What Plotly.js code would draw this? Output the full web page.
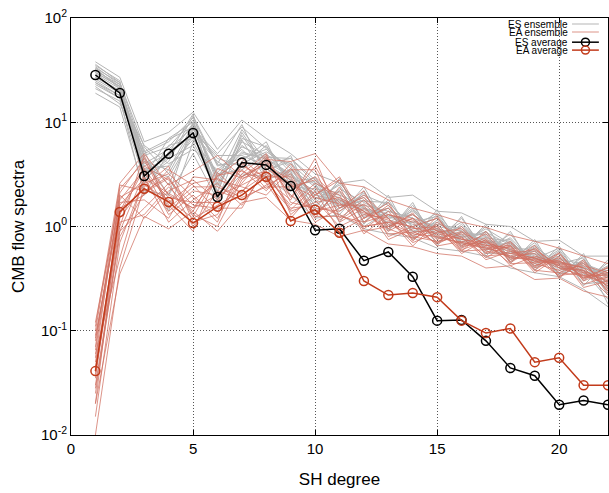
<!DOCTYPE html>
<html><head><meta charset="utf-8">
<script src="https://cdn.plot.ly/plotly-3.0.1.min.js"></script>
<style>html,body{margin:0;padding:0;background:#fff}#plot{width:609px;height:493px}</style>
</head><body><div id="plot"></div>
<script>
const degrees = [1,2,3,4,5,6,7,8,9,10,11,12,13,14,15,16,17,18,19,20,21,22];

const esAverage = [28.4,19.1,3.05,5.0,7.9,1.92,4.1,3.9,2.45,0.92,0.95,0.47,0.57,0.33,0.125,0.127,0.08,0.044,0.037,0.0195,0.0214,0.0195];
const eaAverage = [0.041,1.38,2.3,1.72,1.08,1.55,2.0,3.0,1.13,1.45,0.87,0.30,0.22,0.23,0.21,0.125,0.095,0.105,0.05,0.055,0.03,0.03];

const esEnsemble = [
 [30,22,4.0,5.5,9.0,3.0,5.0,4.5,3.2,2.0,1.8,1.5,1.3,1.1,0.95,0.85,0.75,0.60,0.50,0.42,0.38,0.30],
 [25,18,3.5,3.0,7.5,2.5,6.0,4.0,2.8,1.6,2.2,1.3,1.5,0.9,1.1,0.75,0.80,0.55,0.58,0.40,0.44,0.33],
 [36,24,5.0,6.5,11.0,3.8,4.5,5.5,3.6,2.4,1.6,1.9,1.2,1.3,0.85,1.0,0.65,0.70,0.48,0.50,0.36,0.38],
 [21,16,2.8,4.5,6.0,2.2,7.5,3.5,4.2,1.8,2.5,1.2,1.7,1.0,1.2,0.70,0.90,0.50,0.62,0.36,0.48,0.28],
 [28,20,4.5,2.5,8.5,4.5,3.8,6.0,2.5,2.7,1.4,2.1,1.0,1.5,0.80,1.1,0.60,0.78,0.44,0.55,0.32,0.42],
 [33,21,3.0,7.0,10.0,2.8,8.5,4.2,3.0,2.2,2.0,1.6,1.4,1.2,1.0,0.90,0.72,0.65,0.52,0.46,0.40,0.35],
 [23,17,6.0,4.0,5.5,3.5,5.5,3.2,4.8,1.5,2.8,1.1,1.8,0.85,1.3,0.65,1.0,0.48,0.70,0.34,0.52,0.25],
 [31,23,3.8,5.0,12.0,2.0,4.2,6.5,2.2,3.0,1.3,2.4,0.95,1.6,0.75,1.2,0.58,0.85,0.42,0.60,0.30,0.45],
 [26,19,4.2,3.5,9.5,4.0,9.5,3.0,3.5,1.9,1.7,1.4,1.1,1.4,0.90,0.80,0.85,0.58,0.55,0.45,0.42,0.26],
 [35,25,2.6,6.0,7.0,3.2,3.5,5.0,2.9,1.3,2.3,1.7,1.3,0.95,1.05,0.95,0.68,0.62,0.60,0.38,0.46,0.32],
 [22,15,5.5,1.4,6.5,2.4,6.5,4.8,4.0,2.5,1.5,2.0,1.6,0.80,1.15,0.72,0.78,0.72,0.46,0.52,0.34,0.40],
 [29,21,3.2,4.8,8.0,4.8,4.8,3.8,2.6,2.1,1.9,1.0,1.4,1.2,0.70,1.05,0.62,0.52,0.66,0.40,0.38,0.20],
 [24,18,4.8,5.8,10.5,2.6,7.0,5.8,3.3,1.7,2.6,1.5,1.2,1.3,0.95,0.78,0.88,0.66,0.50,0.48,0.44,0.36],
 [32,22,3.6,3.8,6.8,3.3,5.8,4.6,4.5,2.8,1.5,1.8,1.05,1.1,1.25,0.68,0.70,0.75,0.40,0.58,0.28,0.30],
 [27,20,5.2,6.8,9.0,2.1,8.0,3.6,2.4,2.3,2.1,1.25,1.5,0.90,0.88,0.92,0.55,0.56,0.58,0.35,0.40,0.24],
 [34,23,2.9,4.2,11.5,3.9,4.0,5.2,3.8,1.4,1.85,1.55,0.92,1.45,0.78,0.88,0.82,0.46,0.64,0.44,0.50,0.22],
 [19,14,2.2,2.0,5.0,1.8,3.2,3.0,2.0,1.2,1.3,0.95,0.85,0.78,0.62,0.58,0.52,0.40,0.36,0.33,0.25,0.17],
 [38,27,6.5,8.0,12.5,5.5,10.5,7.0,5.0,3.2,2.6,2.8,1.9,2.0,1.4,1.35,1.05,1.0,0.72,0.74,0.52,0.52],
 [24,17,2.0,5.2,7.8,4.2,3.0,4.0,4.5,2.6,1.1,2.2,0.9,1.7,0.65,1.25,0.52,0.90,0.38,0.65,0.27,0.48],
 [30,22,4.6,2.0,10.0,1.8,6.8,2.8,3.4,1.3,2.9,1.05,2.0,0.75,1.45,0.62,1.05,0.44,0.75,0.32,0.55,0.18],
 [27,20,3.4,4.6,9.8,3.1,5.2,4.4,3.1,2.0,1.75,1.45,1.25,1.05,0.92,0.82,0.70,0.60,0.54,0.44,0.41,0.34],
 [33,24,5.8,3.2,8.8,5.0,9.0,5.6,2.7,2.9,1.6,1.75,1.7,0.98,1.35,0.70,0.95,0.68,0.49,0.62,0.35,0.27]
];

const eaEnsemble = [
 [0.05,1.2,2.5,1.8,1.2,1.6,2.2,3.2,1.5,1.6,1.3,1.0,1.1,0.85,0.80,0.70,0.62,0.55,0.50,0.42,0.36,0.30],
 [0.08,1.8,3.5,1.3,2.0,1.2,3.0,4.0,2.2,3.0,1.8,1.4,0.9,1.2,0.75,0.90,0.55,0.65,0.42,0.50,0.32,0.35],
 [0.03,0.9,1.5,2.6,1.0,2.2,1.8,2.5,3.2,1.3,2.2,0.95,1.4,0.75,1.05,0.62,0.78,0.48,0.58,0.36,0.44,0.26],
 [0.10,2.3,4.2,2.0,1.5,3.0,4.5,2.8,1.8,4.5,1.2,1.8,1.0,1.3,0.90,0.75,0.70,0.60,0.46,0.46,0.40,0.32],
 [0.02,1.5,2.0,3.5,2.5,1.4,2.6,4.8,1.3,2.0,2.8,1.1,1.6,0.90,0.70,0.85,0.50,0.70,0.38,0.55,0.30,0.38],
 [0.06,0.5,3.0,1.1,1.8,2.6,1.6,3.6,2.6,1.1,1.5,2.2,0.8,1.0,1.2,0.65,0.85,0.45,0.62,0.40,0.34,0.28],
 [0.12,2.0,1.2,2.2,2.8,1.8,3.5,2.2,4.0,1.8,1.0,1.3,1.2,0.70,0.88,0.95,0.58,0.52,0.55,0.33,0.46,0.24],
 [0.04,1.0,4.8,1.6,0.9,3.3,2.0,3.0,1.6,2.6,2.0,0.85,1.3,1.1,0.65,0.72,0.66,0.62,0.40,0.48,0.28,0.33],
 [0.07,2.5,2.2,3.0,1.3,1.0,2.8,4.2,2.0,1.4,1.6,1.6,0.75,0.95,1.0,0.55,0.75,0.42,0.52,0.44,0.38,0.22],
 [0.015,0.7,2.8,1.4,2.2,2.0,4.0,2.6,1.2,2.2,0.9,1.2,1.5,0.80,0.72,0.80,0.48,0.58,0.44,0.38,0.42,0.36],
 [0.09,1.4,3.8,2.8,1.6,1.5,1.5,3.8,2.8,1.2,2.4,0.9,1.0,1.2,0.82,0.68,0.62,0.66,0.36,0.52,0.26,0.30],
 [0.035,1.7,1.8,1.2,3.0,2.8,2.4,2.0,3.5,3.5,1.1,1.5,0.85,0.88,0.95,0.60,0.72,0.50,0.48,0.34,0.36,0.27],
 [0.01,0.4,2.4,3.8,1.1,1.3,3.2,5.0,1.7,1.5,1.4,2.0,1.2,0.65,1.1,0.78,0.52,0.55,0.60,0.42,0.32,0.40],
 [0.055,2.1,4.5,1.5,2.4,2.4,1.9,2.4,2.4,2.8,1.7,1.0,1.1,1.0,0.68,0.88,0.68,0.44,0.45,0.45,0.40,0.25],
 [0.045,1.1,1.3,2.4,1.4,3.6,2.9,3.4,1.4,1.7,1.9,1.4,0.95,0.78,0.92,0.58,0.60,0.64,0.38,0.36,0.34,0.34],
 [0.025,0.9,3.2,1.9,1.7,1.7,3.8,3.0,3.0,1.25,1.25,1.1,1.3,1.15,0.78,0.70,0.64,0.50,0.50,0.40,0.38,0.29],
 [0.11,2.6,5.0,2.5,3.4,4.8,3.0,4.4,4.2,5.0,2.6,2.4,1.8,1.5,1.3,1.1,0.98,0.82,0.72,0.62,0.52,0.44],
 [0.02,0.35,1.25,0.95,1.4,0.9,1.7,1.9,1.15,1.05,0.8,0.92,0.68,0.64,0.55,0.52,0.40,0.42,0.31,0.32,0.24,0.21],
 [0.065,1.9,2.6,3.2,1.9,1.1,4.2,2.3,3.6,2.0,3.0,1.2,1.7,0.72,1.25,0.58,0.90,0.46,0.66,0.32,0.48,0.23],
 [0.038,1.3,3.6,1.7,2.6,2.9,2.1,4.6,1.9,3.8,1.5,1.9,0.95,1.35,0.70,1.0,0.56,0.72,0.41,0.56,0.31,0.41],
 [0.085,1.6,2.9,2.1,1.5,2.0,2.5,3.3,2.5,1.9,1.65,1.35,1.15,0.98,0.85,0.76,0.66,0.58,0.49,0.43,0.37,0.31],
 [0.028,0.8,2.1,2.9,1.25,3.1,3.4,2.7,1.45,2.4,1.15,1.65,1.05,0.82,1.0,0.64,0.74,0.52,0.47,0.47,0.33,0.36]
];

const legendLabels = ["ES ensemble","EA ensemble","ES average","EA average"];
const yTickVals = [0.01,0.1,1,10,100];
const yTickText = ["10<sup>-2</sup>","10<sup>-1</sup>","10<sup>0</sup>","10<sup>1</sup>","10<sup>2</sup>"];
const xTickVals = [0,5,10,15,20];

const grayC = '#b5b5b5', redEnsC = 'rgba(208,112,98,0.75)', redAvgC = '#c23b1b', blackC = '#000000';

const traces = [];
esEnsemble.forEach(s => traces.push({x:degrees,y:s,type:'scatter',mode:'lines',line:{color:grayC,width:1},showlegend:false,hoverinfo:'skip'}));
eaEnsemble.forEach(s => traces.push({x:degrees,y:s,type:'scatter',mode:'lines',line:{color:redEnsC,width:1},showlegend:false,hoverinfo:'skip'}));
traces.push({x:degrees,y:esAverage,type:'scatter',mode:'lines+markers',line:{color:blackC,width:1.5},
  marker:{symbol:'circle-open',size:9,color:blackC,line:{width:1.5}},showlegend:false});
traces.push({x:degrees,y:eaAverage,type:'scatter',mode:'lines+markers',line:{color:redAvgC,width:1.5},
  marker:{symbol:'circle-open',size:9,color:redAvgC,line:{width:1.5}},showlegend:false});

// custom legend (text right-aligned, sample on the right, as in the reference)
const legColors = [grayC, redEnsC, blackC, redAvgC];
const legY = [0.9856,0.9664,0.942,0.923];
const annotations = [], shapes = [];
legendLabels.forEach((t,i)=>{
  annotations.push({text:t,xref:'paper',yref:'paper',x:0.927,y:legY[i],xanchor:'right',yanchor:'middle',
    showarrow:false,font:{family:'Liberation Sans, Arial, sans-serif',size:10,color:'#000'},borderpad:0});
  shapes.push({type:'line',xref:'paper',yref:'paper',x0:0.933,x1:0.983,y0:legY[i],y1:legY[i],
    line:{color:legColors[i],width:i<2?1:1.5}});
  if(i>=2){
    shapes.push({type:'circle',xref:'paper',yref:'paper',xsizemode:'pixel',ysizemode:'pixel',
      xanchor:0.958,yanchor:legY[i],x0:-4,x1:4,y0:-4,y1:4,line:{color:legColors[i],width:1.5},fillcolor:'rgba(0,0,0,0)'});
  }
});

const layout = {
  width:609,height:493,
  margin:{l:71,r:1,t:18,b:58},
  paper_bgcolor:'#fff',plot_bgcolor:'#fff',
  font:{family:'Liberation Sans, Arial, sans-serif',size:15,color:'#000'},
  showlegend:false,
  xaxis:{range:[0,22],tickvals:xTickVals,ticks:'inside',ticklen:5,tickcolor:'#000',
    showline:true,linecolor:'#000',linewidth:1,mirror:'ticks',
    showgrid:true,gridcolor:'#555',griddash:'1px,2px',gridwidth:1,zeroline:false,
    tickfont:{size:15},title:{text:'SH degree',font:{size:17},standoff:17}},
  yaxis:{type:'log',range:[-2,2],tickvals:yTickVals,ticktext:yTickText,ticks:'inside',ticklen:5,tickcolor:'#000',
    showline:true,linecolor:'#000',linewidth:1,mirror:'ticks',
    showgrid:true,gridcolor:'#555',griddash:'1px,2px',gridwidth:1,zeroline:false,
    tickfont:{size:15},title:{text:'CMB flow spectra',font:{size:17},standoff:12}},
  annotations:annotations,shapes:shapes
};
Plotly.newPlot('plot',traces,layout,{displayModeBar:false,staticPlot:true});
</script>
</body></html>
